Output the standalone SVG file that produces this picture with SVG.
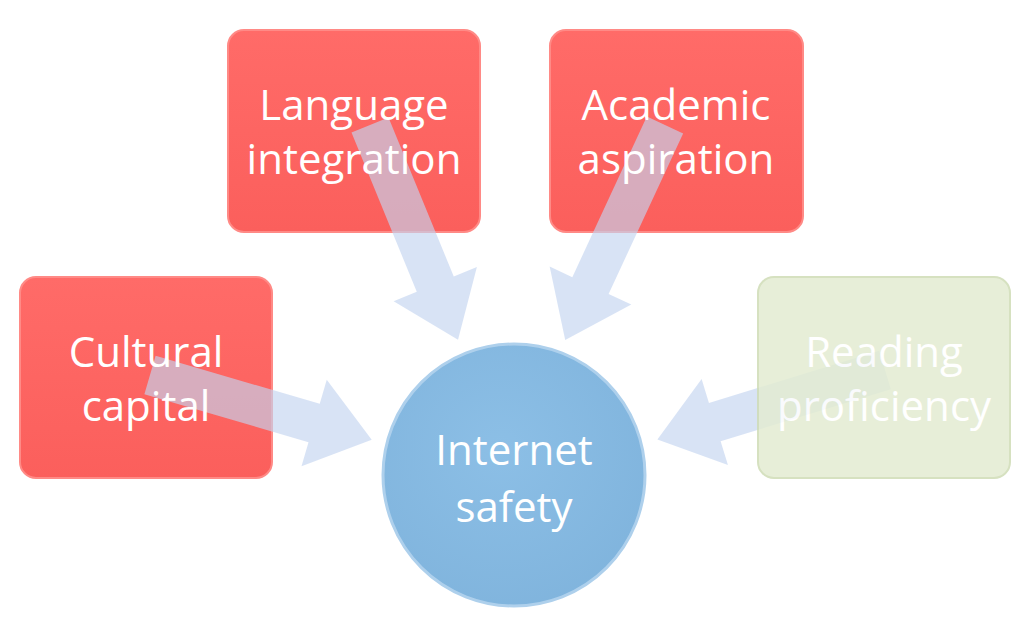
<svg xmlns="http://www.w3.org/2000/svg" width="1024" height="629" viewBox="0 0 1024 629">
<defs>
<linearGradient id="rg" x1="0" y1="0" x2="0" y2="1"><stop offset="0" stop-color="#ff6b68"/><stop offset="1" stop-color="#fb5f5c"/></linearGradient>
<radialGradient id="cg" cx="0.45" cy="0.4" r="0.7"><stop offset="0" stop-color="#8cbfe6"/><stop offset="1" stop-color="#7fb3dc"/></radialGradient>
</defs>
<style>
.box{fill:url(#rg);stroke:#ff8a86;stroke-width:2}
.t{font-family:"Open Sans","Liberation Sans",sans-serif;font-size:42px;fill:#fff;text-anchor:middle}
.arr{fill:#c3d4ef;opacity:0.65}
</style>
<rect width="1024" height="629" fill="#fff"/>
<g id="n_language"><rect class="box" x="228" y="30" width="252" height="202" rx="16"/></g>
<g id="n_academic"><rect class="box" x="550" y="30" width="253" height="202" rx="16"/></g>
<g id="n_cultural"><rect class="box" x="20" y="277" width="252" height="201" rx="16"/></g>
<g id="connectors">
<polygon class="arr" transform="translate(370,125) rotate(67.7)" points="0,-20 172,-20 172,-45 232,0 172,45 172,20 0,20"/>
<polygon class="arr" transform="translate(665,125) rotate(114.9)" points="0,-20 177,-20 177,-45 237,0 177,45 177,20 0,20"/>
<polygon class="arr" transform="translate(150,375) rotate(16.3)" points="0,-20 171,-20 171,-45 231,0 171,45 171,20 0,20"/>
<polygon class="arr" transform="translate(885,370) rotate(163)" points="0,-20 178,-20 178,-45 238,0 178,45 178,20 0,20"/>
</g>
<g id="labels">
<text class="t" x="354" y="120">Language</text><text class="t" x="354" y="174">integration</text>
<text class="t" x="676" y="120">Academic</text><text class="t" x="676" y="174">aspiration</text>
<text class="t" x="146" y="367">Cultural</text><text class="t" x="146" y="421">capital</text>
</g>
<g id="n_reading" opacity="0.85"><rect x="758" y="277" width="252" height="201" rx="16" fill="#e3ecd2" stroke="#cfdcb6" stroke-width="2"/><text class="t" x="884" y="367">Reading</text><text class="t" x="884" y="421">proficiency</text></g>
<g id="n_internet"><circle cx="514" cy="475" r="131" fill="url(#cg)" stroke="#aed0ec" stroke-width="3"/><text class="t" x="514" y="465" font-size="43">Internet</text><text class="t" x="514" y="522" font-size="43">safety</text></g>
</svg>
